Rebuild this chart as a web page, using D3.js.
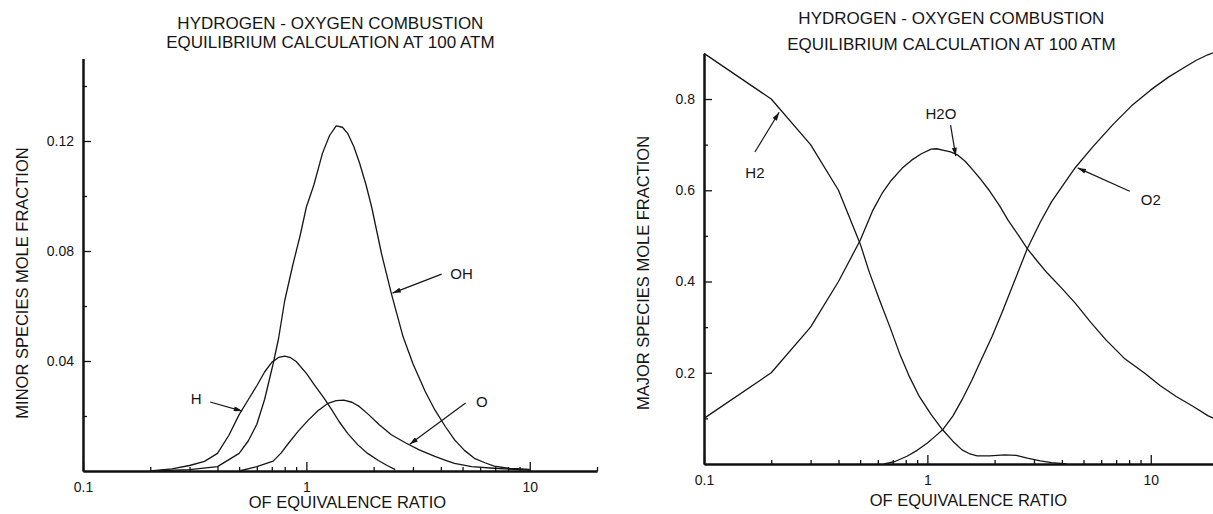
<!DOCTYPE html>
<html>
<head>
<meta charset="utf-8">
<script src="https://cdn.jsdelivr.net/npm/d3@7/dist/d3.min.js"></script>
<style>
    body { margin: 0; background: #fff; }
    text { font-family: "Liberation Sans", Arial, sans-serif; fill: #151515; }
</style>
</head>
<body>
<div id="root"></div>
<script>
// ---- left chart: minor species ----
var phiOH = [0.2, 0.3, 0.4, 0.5, 0.55, 0.6, 0.65, 0.71, 0.75, 0.8, 0.87, 0.94, 1.0, 1.08, 1.18, 1.27, 1.36, 1.45, 1.53, 1.63, 1.73, 1.85, 1.96, 2.17, 2.4, 2.71, 3.0, 3.4, 3.76, 4.2, 4.61, 5.1, 5.65, 6.3, 6.93, 8, 10];
var OH = [0, 0.0005, 0.0016, 0.0064, 0.011, 0.017, 0.026, 0.039, 0.048, 0.062, 0.075, 0.086, 0.096, 0.104, 0.1155, 0.122, 0.1255, 0.125, 0.1228, 0.118, 0.112, 0.104, 0.096, 0.079, 0.0646, 0.0488, 0.039, 0.029, 0.0222, 0.016, 0.0113, 0.0075, 0.0046, 0.003, 0.0018, 0.001, 0.0006];

var phiH = [0.2, 0.25, 0.3, 0.35, 0.4, 0.45, 0.5, 0.55, 0.6, 0.65, 0.7, 0.75, 0.8, 0.85, 0.9, 1.0, 1.1, 1.2, 1.3, 1.4, 1.53, 1.7, 1.88, 2.1, 2.3, 2.5];
var H = [0, 0.0008, 0.002, 0.0035, 0.0064, 0.013, 0.0205, 0.026, 0.031, 0.036, 0.0395, 0.0413, 0.0418, 0.0412, 0.0398, 0.0355, 0.0307, 0.0265, 0.0222, 0.018, 0.0137, 0.0095, 0.0064, 0.0038, 0.002, 0.0005];

var phiO = [0.5, 0.6, 0.71, 0.77, 0.83, 0.92, 1.02, 1.13, 1.25, 1.36, 1.47, 1.6, 1.73, 1.9, 2.12, 2.4, 2.8, 3.2, 3.76, 4.2, 4.6, 5.5, 6.9, 10];
var O = [0, 0.0016, 0.0036, 0.0065, 0.010, 0.0145, 0.0185, 0.022, 0.0246, 0.0256, 0.0258, 0.025, 0.0234, 0.0205, 0.0168, 0.0132, 0.0101, 0.0077, 0.0053, 0.0039, 0.0028, 0.0016, 0.001, 0.0003];

// ---- right chart: major species ----
var phiH2 = [0.1, 0.2, 0.3, 0.4, 0.5, 0.55, 0.61, 0.68, 0.75, 0.83, 0.92, 1.04, 1.17, 1.3, 1.43, 1.55, 1.67, 1.9, 2.22, 2.5, 2.8, 3.2, 3.6, 4.2];
var H2 = [0.9, 0.8, 0.7, 0.6, 0.483, 0.42, 0.36, 0.30, 0.243, 0.192, 0.148, 0.108, 0.075, 0.05, 0.031, 0.022, 0.018, 0.018, 0.020, 0.019, 0.013, 0.007, 0.003, 0];

var phiH2O = [0.1, 0.2, 0.3, 0.4, 0.5, 0.57, 0.63, 0.69, 0.77, 0.85, 0.94, 1.04, 1.1, 1.17, 1.27, 1.37, 1.48, 1.6, 1.74, 1.89, 2.1, 2.3, 2.55, 2.8, 3.1, 3.45, 4.0, 4.6, 5.4, 6.3, 7.6, 9.4, 11, 13, 15.5, 18, 20];
var H2O = [0.1, 0.2, 0.3, 0.4, 0.49, 0.556, 0.595, 0.622, 0.648, 0.666, 0.68, 0.69, 0.691, 0.688, 0.684, 0.677, 0.663, 0.644, 0.623, 0.60, 0.567, 0.534, 0.502, 0.472, 0.445, 0.418, 0.385, 0.352, 0.31, 0.272, 0.232, 0.199, 0.172, 0.148, 0.126, 0.106, 0.096];

var phiO2 = [0.64, 0.72, 0.81, 0.9, 1.0, 1.08, 1.17, 1.3, 1.43, 1.58, 1.74, 1.95, 2.15, 2.45, 2.8, 3.2, 3.6, 4.1, 4.6, 5.5, 6.8, 8.2, 10, 12, 14, 16, 18, 20];
var O2 = [0, 0.006, 0.017, 0.03, 0.046, 0.06, 0.075, 0.105, 0.141, 0.183, 0.228, 0.28, 0.33, 0.40, 0.472, 0.53, 0.575, 0.615, 0.65, 0.695, 0.745, 0.785, 0.82, 0.848, 0.868, 0.885, 0.897, 0.905];

// tick values
var xMajor = [0.1, 1, 10];
var xMinor = [0.2, 0.3, 0.4, 0.5, 0.6, 0.7, 0.8, 0.9, 2, 3, 4, 5, 6, 7, 8, 9, 20];
var yMajorMinor = [0.04, 0.08, 0.12];
var yMinorMinor = [0.02, 0.06, 0.10, 0.14];
var yMajorMajor = [0.2, 0.4, 0.6, 0.8];
var yMinorMajor = [0.1, 0.3, 0.5, 0.7];

// annotations: label point, arrow tail, arrow tip (all in data units)
var notesMinor = [
    { text: "OH", label: [4.95, 0.072], tail: [4.03, 0.0716], tip: [2.43, 0.0647] },
    { text: "H", label: [0.321, 0.0265], tail: [0.371, 0.0251], tip: [0.516, 0.0218] },
    { text: "O", label: [6.1, 0.0251], tail: [5.16, 0.0247], tip: [2.9, 0.0097] }
];
var notesMajor = [
    { text: "H2", label: [0.169, 0.64], tail: [0.169, 0.684], tip: [0.217, 0.771] },
    { text: "H2O", label: [1.15, 0.769], tail: [1.27, 0.743], tip: [1.34, 0.675] },
    { text: "O2", label: [10, 0.579], tail: [8.05, 0.598], tip: [4.71, 0.649] }
];

var title1 = "HYDROGEN - OXYGEN COMBUSTION";
var title2 = "EQUILIBRIUM CALCULATION AT 100 ATM";

var svg = d3.select("#root")
    .append("svg")
    .attr("width", 1213)
    .attr("height", 514);

svg.append("defs")
    .append("marker")
    .attr("id", "head")
    .attr("viewBox", "0 0 10 6")
    .attr("refX", 10)
    .attr("refY", 3)
    .attr("markerWidth", 9)
    .attr("markerHeight", 5)
    .attr("markerUnits", "userSpaceOnUse")
    .attr("orient", "auto")
    .append("path")
    .attr("d", "M0,0 L10,3 L0,6 Z")
    .style("fill", "#151515");

function drawPanel(p) {
    var x = d3.scaleLog().domain([0.1, 20]).range([p.left, p.left + 514]);
    var y = d3.scaleLinear().domain([0, p.ymax]).range([p.bottom, p.top]);

    // title
    var tx = x(1) + 24;
    svg.append("text").attr("x", tx).attr("y", p.t1)
        .attr("text-anchor", "middle").attr("dominant-baseline", "central")
        .style("font-size", "17px").text(title1);
    svg.append("text").attr("x", tx).attr("y", p.t2)
        .attr("text-anchor", "middle").attr("dominant-baseline", "central")
        .style("font-size", "17px").text(title2);

    // x axis (ticks point up)
    var gx = svg.append("g").attr("transform", "translate(0," + p.bottom + ")");
    gx.call(d3.axisBottom(x).tickValues(xMinor).tickSize(-4).tickSizeOuter(0).tickFormat(""));
    gx.append("g").call(d3.axisBottom(x).tickValues(xMajor).tickSize(-9).tickSizeOuter(0)
        .tickPadding(11).tickFormat(d3.format("")));

    // y axis (ticks point right)
    var gy = svg.append("g").attr("transform", "translate(" + p.left + ",0)");
    gy.call(d3.axisLeft(y).tickValues(p.yMinor).tickSize(-4).tickSizeOuter(0).tickFormat(""));
    gy.append("g").call(d3.axisLeft(y).tickValues(p.yMajor).tickSize(-8).tickSizeOuter(0)
        .tickPadding(9).tickFormat(p.fmt));

    svg.selectAll(".domain").style("stroke", "#111").style("stroke-width", 2);
    svg.selectAll(".tick line").style("stroke", "#111").style("stroke-width", 1.3);
    svg.selectAll(".tick text").style("font-size", "14px").style("font-family", "Liberation Sans, Arial, sans-serif").style("fill", "#151515");

    // axis titles
    svg.append("text").attr("x", x(1) + 41).attr("y", p.xtitleY)
        .attr("text-anchor", "middle").attr("dominant-baseline", "central")
        .style("font-size", "16.5px").text("OF EQUIVALENCE RATIO");
    svg.append("text")
        .attr("transform", "translate(" + (p.left - 61) + "," + p.ymid + ") rotate(-90)")
        .attr("text-anchor", "middle").attr("dominant-baseline", "central")
        .style("font-size", "16.5px").text(p.ytitle);

    // curves
    var line = d3.line()
        .x((d) => x(d[0]))
        .y((d) => y(d[1]));
    p.series.forEach((s) => {
        svg.append("path")
            .datum(d3.zip(s[0], s[1]))
            .attr("d", line)
            .style("fill", "none")
            .style("stroke", "#151515")
            .style("stroke-width", 1.3)
            .style("stroke-linejoin", "round");
    });

    // labels with arrows
    p.notes.forEach((n) => {
        svg.append("line")
            .attr("x1", x(n.tail[0])).attr("y1", y(n.tail[1]))
            .attr("x2", x(n.tip[0])).attr("y2", y(n.tip[1]))
            .style("stroke", "#151515").style("stroke-width", 1.2)
            .attr("marker-end", "url(#head)");
        svg.append("text")
            .attr("x", x(n.label[0])).attr("y", y(n.label[1]))
            .attr("text-anchor", "middle").attr("dominant-baseline", "central")
            .style("font-size", "15px").text(n.text);
    });
}

drawPanel({
    left: 83, bottom: 471, top: 58.5, ymax: 0.15, ymid: 283, xtitleY: 502,
    t1: 23, t2: 42,
    yMajor: yMajorMinor, yMinor: yMinorMinor, fmt: d3.format(".2f"),
    ytitle: "MINOR SPECIES MOLE FRACTION",
    series: [[phiOH, OH], [phiH, H], [phiO, O]],
    notes: notesMinor
});

drawPanel({
    left: 704, bottom: 464, top: 53.4, ymax: 0.9, ymid: 273, xtitleY: 500,
    t1: 18, t2: 44,
    yMajor: yMajorMajor, yMinor: yMinorMajor, fmt: d3.format(".1f"),
    ytitle: "MAJOR SPECIES MOLE FRACTION",
    series: [[phiH2, H2], [phiH2O, H2O], [phiO2, O2]],
    notes: notesMajor
});
</script>
</body>
</html>
